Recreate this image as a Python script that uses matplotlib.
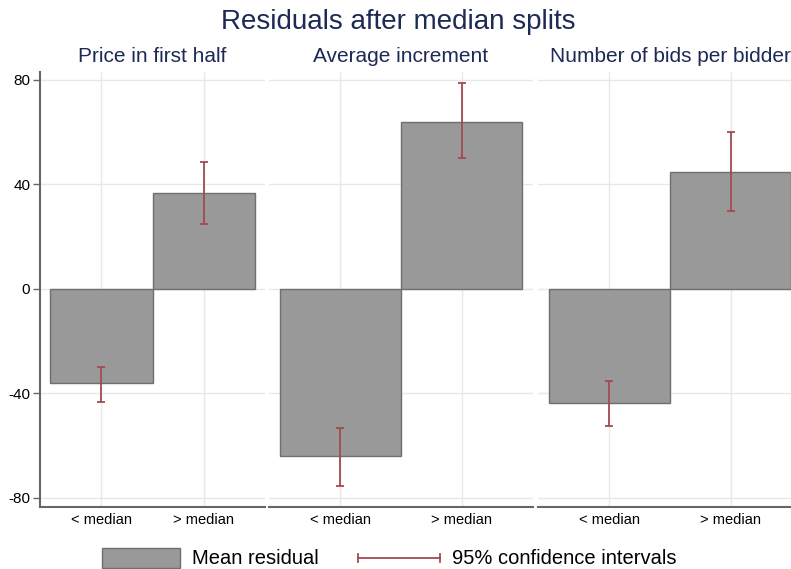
import matplotlib
matplotlib.use("Agg")
import matplotlib.pyplot as plt
from matplotlib.patches import Rectangle
from matplotlib.lines import Line2D

plt.rcParams['font.family'] = ['Liberation Sans', 'DejaVu Sans']
plt.rcParams['axes.unicode_minus'] = False

# data
panels = ['Price in first half', 'Average increment', 'Number of bids per bidder']
groups = ['< median', '> median']
means = [[-36.0, 36.8], [-64.0, 64.0], [-43.7, 44.8]]
ci_low = [[-43.3, 24.9], [-75.5, 50.2], [-52.5, 29.9]]
ci_high = [[-29.9, 48.7], [-53.3, 78.9], [-35.2, 60.2]]
yticks = [-80, -40, 0, 40, 80]

W, H = 791, 569
fig = plt.figure(figsize=(W / 100, H / 100), dpi=100)

navy = '#1c2a55'
bar_col = '#999999'
edge_col = '#6f6f6f'
ci_col = '#a24a50'
grid_col = '#e8e8e8'

# panel extents in pixels (left, right) and x limits
boxes = [(40, 265, 0.40, 2.60), (269, 533, 0.41, 2.59), (538, 802, 0.41, 2.59)]
top, bottom = 72, 507

for i, (x0, x1, xl, xr) in enumerate(boxes):
    ax = fig.add_axes([x0 / W, (H - bottom) / H, (x1 - x0) / W, (bottom - top) / H])
    xs = [1, 2]
    ax.set_axisbelow(True)
    ax.grid(True, color=grid_col, linewidth=1)
    ax.bar(xs, means[i], width=1.0, color=bar_col, edgecolor=edge_col, linewidth=1, zorder=2)
    for x, lo, hi in zip(xs, ci_low[i], ci_high[i]):
        ax.errorbar([x], [(lo + hi) / 2], yerr=[[(hi - lo) / 2], [(hi - lo) / 2]],
                    fmt='none', ecolor=ci_col, elinewidth=1.3, capsize=3, capthick=1.3, zorder=3)
    ax.set_xlim(xl, xr)
    ax.set_ylim(-83.5, 83)
    ax.set_xticks(xs)
    ax.set_xticklabels(groups, fontsize=10.5)
    ax.tick_params(axis='x', length=0, pad=4)
    ax.set_yticks(yticks)
    for s in ['top', 'right']:
        ax.spines[s].set_visible(False)
    ax.spines['bottom'].set_color('#666666')
    ax.spines['bottom'].set_linewidth(1.5)
    if i == 0:
        ax.spines['left'].set_color('#666666')
        ax.spines['left'].set_linewidth(1.5)
        ax.tick_params(axis='y', length=5, width=1, color='#666666', labelsize=11, pad=2)
    else:
        ax.spines['left'].set_visible(False)
        ax.tick_params(axis='y', length=0, labelleft=False)
    ax.set_title(panels[i], fontsize=15, color=navy, pad=7)

fig.text(398 / W, 1 - 22 / H, 'Residuals after median splits', ha='center', va='center',
         fontsize=20, color=navy)

# legend drawn by hand in pixel positions
ly = 1 - 558 / H
fig.patches.append(Rectangle((102 / W, 1 - 568 / H), 78 / W, 20 / H, transform=fig.transFigure,
                             facecolor=bar_col, edgecolor=edge_col, linewidth=1))
fig.text(192 / W, ly, 'Mean residual', ha='left', va='center', fontsize=14.5)
fig.lines.append(Line2D([358 / W, 440 / W], [ly, ly], transform=fig.transFigure,
                        color=ci_col, lw=1.3))
for cx in (358, 440):
    fig.lines.append(Line2D([cx / W, cx / W], [ly - 4 / H, ly + 4 / H], transform=fig.transFigure,
                            color=ci_col, lw=1.3))
fig.text(452 / W, ly, '95% confidence intervals', ha='left', va='center', fontsize=14.5)

fig.savefig('out.png', dpi=100, facecolor='white')
